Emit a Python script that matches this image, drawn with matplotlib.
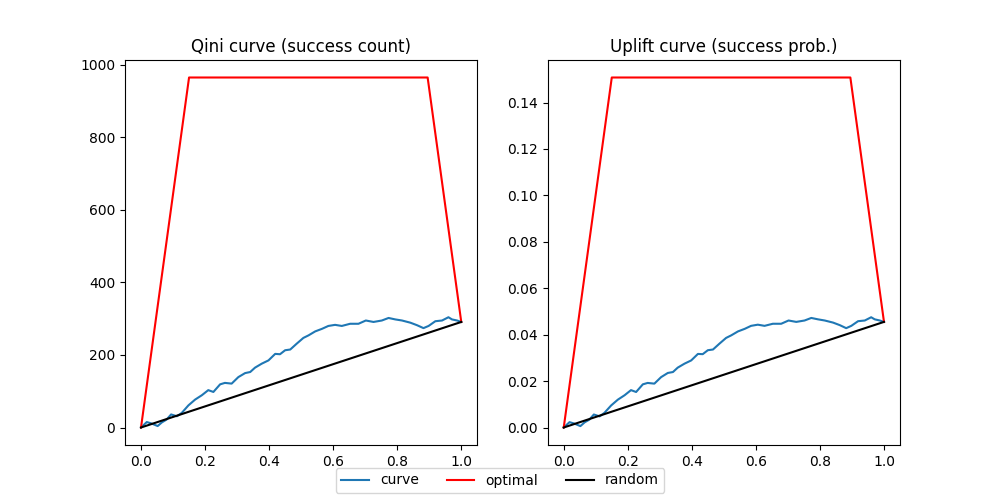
import matplotlib
matplotlib.use("Agg")
import matplotlib.pyplot as plt

# fraction of population targeted
frac = [0.0, 0.018, 0.033, 0.052, 0.065, 0.08, 0.094, 0.112, 0.127, 0.148,
        0.169, 0.19, 0.21, 0.226, 0.247, 0.262, 0.283, 0.304, 0.325, 0.341,
        0.356, 0.377, 0.398, 0.419, 0.434, 0.45, 0.466, 0.486, 0.507, 0.523,
        0.544, 0.565, 0.585, 0.606, 0.627, 0.653, 0.679, 0.702, 0.726, 0.752,
        0.773, 0.794, 0.815, 0.841, 0.862, 0.882, 0.898, 0.919, 0.94, 0.96,
        0.971, 0.987, 1.0]

qini = [0, 15, 11, 4, 14, 22, 36, 31, 40, 61,
        77, 89, 103, 98, 119, 123, 121, 139, 150, 153,
        165, 176, 185, 203, 202, 213, 215, 231, 247, 254,
        265, 272, 280, 283, 280, 286, 286, 295, 291, 295,
        302, 298, 295, 289, 282, 274, 280, 293, 295, 304,
        298, 295, 291]

uplift = [0.0, 0.0023, 0.0017, 0.0006, 0.0022, 0.0034, 0.0056, 0.0048, 0.0063, 0.0095,
          0.012, 0.0139, 0.0161, 0.0153, 0.0186, 0.0192, 0.0189, 0.0217, 0.0235, 0.0239,
          0.0258, 0.0275, 0.0289, 0.0317, 0.0316, 0.0333, 0.0336, 0.0361, 0.0386, 0.0397,
          0.0414, 0.0425, 0.0438, 0.0443, 0.0438, 0.0447, 0.0447, 0.0461, 0.0455, 0.0461,
          0.0472, 0.0466, 0.0461, 0.0452, 0.0441, 0.0428, 0.0438, 0.0458, 0.0461, 0.0475,
          0.0466, 0.0461, 0.0455]

opt_x = [0.0, 0.15, 0.895, 1.0]
opt_qini = [0, 965, 965, 291]
opt_uplift = [0.0, 0.1508, 0.1508, 0.0455]

rand_x = [0.0, 1.0]
rand_qini = [0, 291]
rand_uplift = [0.0, 0.0455]

fig, axes = plt.subplots(1, 2, figsize=(10, 5), dpi=100)

panels = [
    (axes[0], qini, opt_qini, rand_qini, "Qini curve (success count)"),
    (axes[1], uplift, opt_uplift, rand_uplift, "Uplift curve (success prob.)"),
]
for ax, curve, opt, rnd, title in panels:
    ax.plot(frac, curve, color="tab:blue", label="curve")
    ax.plot(opt_x, opt, color="red", label="optimal")
    ax.plot(rand_x, rnd, color="black", label="random")
    ax.set_title(title)

handles, labels = axes[0].get_legend_handles_labels()
fig.legend(handles, labels, loc="lower center", ncol=3)

fig.savefig("out.png")
